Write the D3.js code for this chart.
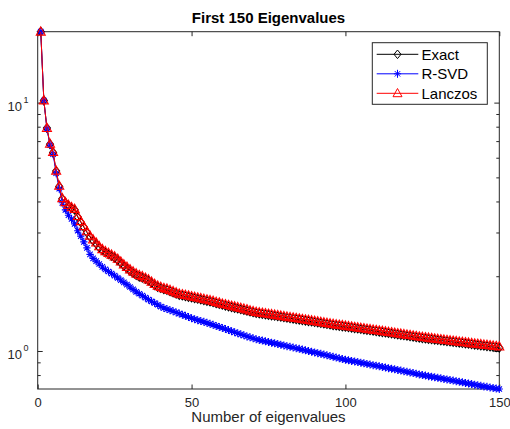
<!DOCTYPE html>
<html><head><meta charset="utf-8">
<script src="https://cdn.jsdelivr.net/npm/d3@7"></script>
<style>body{margin:0;background:#fff}svg{display:block}text{font-family:"Liberation Sans",Arial,Helvetica,sans-serif}</style>
</head><body>
<script>
const title = "First 150 Eigenvalues";
const xLabel = "Number of eigenvalues";
const seriesNames = ["Exact", "R-SVD", "Lanczos"];
const xTicks = [0, 50, 100, 150];
const yMajorTicks = [1, 10];
const yMajorExp = ["0", "1"];
const yMinorTicks = [0.8, 0.9, 2, 3, 4, 5, 6, 7, 8, 9];

const exact = [
19.3, 10.2, 7.9, 6.8, 6.3, 5.3, 4.6, 4.1, 3.95, 3.85,
3.76, 3.7, 3.46, 3.3, 3.15, 3.0, 2.88, 2.78, 2.7, 2.61,
2.54, 2.49, 2.45, 2.41, 2.37, 2.32, 2.26, 2.2, 2.15, 2.1,
2.06, 2.02, 1.99, 1.97, 1.95, 1.92, 1.88, 1.84, 1.81, 1.79,
1.77, 1.76, 1.74, 1.72, 1.7, 1.68, 1.67, 1.66, 1.65, 1.64,
1.63, 1.62, 1.61, 1.6, 1.59, 1.58, 1.57, 1.556, 1.545, 1.535,
1.52, 1.51, 1.5, 1.49, 1.48, 1.47, 1.46, 1.45, 1.44, 1.43,
1.42, 1.414, 1.408, 1.402, 1.396, 1.39, 1.384, 1.378, 1.372, 1.366,
1.36, 1.354, 1.348, 1.342, 1.336, 1.33, 1.324, 1.318, 1.312, 1.306,
1.3, 1.294, 1.288, 1.282, 1.276, 1.27, 1.265, 1.26, 1.255, 1.25,
1.245, 1.24, 1.235, 1.23, 1.225, 1.22, 1.215, 1.21, 1.205, 1.2,
1.195, 1.19, 1.185, 1.18, 1.175, 1.17, 1.165, 1.16, 1.155, 1.15,
1.145, 1.14, 1.135, 1.13, 1.125, 1.121, 1.117, 1.113, 1.11, 1.106,
1.102, 1.098, 1.094, 1.09, 1.087, 1.083, 1.079, 1.075, 1.071, 1.068,
1.064, 1.06, 1.056, 1.052, 1.049, 1.045, 1.041, 1.037, 1.034, 1.03
];
const rsvd = [
19.3, 10.2, 7.85, 6.75, 6.2, 5.2, 4.5, 3.95, 3.7, 3.52,
3.4, 3.25, 3.05, 2.9, 2.75, 2.6, 2.45, 2.36, 2.3, 2.24,
2.18, 2.13, 2.09, 2.05, 2.01, 1.97, 1.93, 1.89, 1.85, 1.81,
1.77, 1.73, 1.7, 1.67, 1.64, 1.61, 1.585, 1.56, 1.535, 1.51,
1.49, 1.475, 1.46, 1.445, 1.43, 1.415, 1.4, 1.385, 1.37, 1.355,
1.343, 1.331, 1.32, 1.31, 1.298, 1.286, 1.274, 1.262, 1.25, 1.238,
1.226, 1.214, 1.202, 1.19, 1.178, 1.167, 1.156, 1.145, 1.135, 1.125,
1.115, 1.108, 1.101, 1.094, 1.087, 1.08, 1.074, 1.067, 1.06, 1.053,
1.046, 1.04, 1.033, 1.026, 1.02, 1.013, 1.006, 1.0, 0.993, 0.987,
0.98, 0.974, 0.967, 0.961, 0.954, 0.948, 0.941, 0.935, 0.928, 0.922,
0.917, 0.912, 0.907, 0.902, 0.897, 0.892, 0.887, 0.882, 0.877, 0.873,
0.868, 0.863, 0.858, 0.853, 0.848, 0.844, 0.839, 0.834, 0.829, 0.824,
0.82, 0.815, 0.81, 0.805, 0.8, 0.796, 0.792, 0.788, 0.784, 0.78,
0.776, 0.772, 0.768, 0.764, 0.76, 0.756, 0.752, 0.748, 0.744, 0.74,
0.736, 0.732, 0.728, 0.724, 0.72, 0.717, 0.713, 0.71, 0.706, 0.703
];
const lanczos = [
19.3, 10.2, 7.9, 6.82, 6.32, 5.32, 4.62, 4.12, 3.97, 3.87,
3.79, 3.73, 3.49, 3.33, 3.18, 3.03, 2.91, 2.81, 2.73, 2.64,
2.57, 2.52, 2.48, 2.44, 2.4, 2.35, 2.29, 2.23, 2.18, 2.13,
2.09, 2.05, 2.02, 2.0, 1.97, 1.94, 1.9, 1.86, 1.83, 1.81,
1.79, 1.78, 1.76, 1.74, 1.72, 1.7, 1.69, 1.68, 1.67, 1.66,
1.65, 1.64, 1.63, 1.62, 1.61, 1.6, 1.59, 1.575, 1.565, 1.55,
1.54, 1.53, 1.52, 1.51, 1.5, 1.49, 1.48, 1.47, 1.455, 1.445,
1.435, 1.429, 1.423, 1.417, 1.411, 1.405, 1.399, 1.393, 1.386, 1.38,
1.374, 1.368, 1.362, 1.356, 1.35, 1.344, 1.338, 1.332, 1.326, 1.32,
1.314, 1.308, 1.302, 1.296, 1.29, 1.284, 1.279, 1.274, 1.269, 1.264,
1.258, 1.253, 1.248, 1.243, 1.238, 1.233, 1.228, 1.223, 1.218, 1.213,
1.208, 1.203, 1.198, 1.193, 1.188, 1.183, 1.178, 1.173, 1.168, 1.163,
1.158, 1.153, 1.148, 1.143, 1.138, 1.134, 1.13, 1.126, 1.122, 1.118,
1.114, 1.11, 1.106, 1.102, 1.098, 1.094, 1.09, 1.087, 1.083, 1.079,
1.075, 1.071, 1.068, 1.064, 1.06, 1.057, 1.053, 1.05, 1.046, 1.042
];

const W = 510, H = 429;
const L = 37.7, R = 499.3, T = 31.7, B = 389;
const axisColor = "#262626";

const svg = d3.select("body").append("svg").attr("width", W).attr("height", H);

const x = d3.scaleLinear().domain([0, 150]).range([L, R]);
const y = d3.scaleLog().domain(d3.extent(exact.concat(rsvd, lanczos))).range([B, T]);

svg.append("rect").attr("x", L).attr("y", T).attr("width", R - L).attr("height", B - T)
  .attr("fill", "#fff").attr("stroke", axisColor).attr("stroke-width", 1);

const xb = svg.append("g").attr("transform", `translate(0,${B})`)
  .call(d3.axisBottom(x).tickValues(xTicks).tickSize(-4.5).tickSizeOuter(0).tickPadding(8.5).tickFormat(d3.format("d")));
const xt = svg.append("g").attr("transform", `translate(0,${T})`)
  .call(d3.axisTop(x).tickValues(xTicks).tickSize(-4.5).tickSizeOuter(0).tickFormat(""));
[xb, xt].forEach(g => {
  g.select(".domain").remove();
  g.selectAll("line").attr("stroke", axisColor);
});
xb.selectAll("text").attr("fill", axisColor).style("font-size", "13px")
  .style("font-family", '"Liberation Sans",Arial,Helvetica,sans-serif');

function yAxisG(side, vals, size) {
  const ax = side === "left" ? d3.axisLeft(y) : d3.axisRight(y);
  const g = svg.append("g").attr("transform", `translate(${side === "left" ? L : R},0)`)
    .call(ax.tickValues(vals).tickSize(-size).tickSizeOuter(0).tickFormat(""));
  g.select(".domain").remove();
  g.selectAll("line").attr("stroke", axisColor);
  return g;
}
yAxisG("left", yMajorTicks, 5);
yAxisG("right", yMajorTicks, 5);
yAxisG("left", yMinorTicks, 3);
yAxisG("right", yMinorTicks, 3);

const yl = svg.append("g");
yMajorTicks.forEach((v, i) => {
  yl.append("text").attr("x", 22).attr("y", y(v) + 8).attr("text-anchor", "end")
    .attr("fill", axisColor).style("font-size", "13px").text("10");
  yl.append("text").attr("x", 23.5).attr("y", y(v) + 0.5).attr("text-anchor", "start")
    .attr("fill", axisColor).style("font-size", "9px").text(yMajorExp[i]);
});

svg.append("text").attr("x", (L + R) / 2).attr("y", 23.3).attr("text-anchor", "middle")
  .style("font-size", "15px").style("font-weight", "bold").attr("fill", "#000").text(title);
svg.append("text").attr("x", (L + R) / 2).attr("y", 422).attr("text-anchor", "middle")
  .style("font-size", "15px").attr("fill", axisColor).text(xLabel);

const diamond = "M0,-4.3L3.5,0L0,4.3L-3.5,0Z";
const star = "M0,-4V4M-3.6,0H3.6M-2.7,-2.7L2.7,2.7M-2.7,2.7L2.7,-2.7";
const tri = "M0,-4.8L4.5,3.4L-4.5,3.4Z";

const series = [
  {name: seriesNames[0], data: exact, color: "#000000", marker: diamond},
  {name: seriesNames[1], data: rsvd, color: "#0000ff", marker: star},
  {name: seriesNames[2], data: lanczos, color: "#ff0000", marker: tri}
];

const line = d3.line().x((d, i) => x(i + 1)).y(d => y(d));
const plot = svg.append("g");
series.forEach(s => {
  plot.append("path").attr("d", line(s.data)).attr("fill", "none")
    .attr("stroke", s.color).attr("stroke-width", 1);
  plot.append("g").selectAll("path").data(s.data).join("path")
    .attr("transform", (d, i) => `translate(${x(i + 1)},${y(d)})`)
    .attr("d", s.marker).attr("fill", "none").attr("stroke", s.color).attr("stroke-width", 1.1);
});

const lg = svg.append("g");
lg.append("rect").attr("x", 372.3).attr("y", 42.7).attr("width", 115).attr("height", 61.6)
  .attr("fill", "#fff").attr("stroke", axisColor).attr("stroke-width", 1);
series.forEach((s, i) => {
  const yy = 54.3 + i * 19.5;
  lg.append("line").attr("x1", 376.7).attr("x2", 418.3).attr("y1", yy).attr("y2", yy)
    .attr("stroke", s.color).attr("stroke-width", 1);
  lg.append("path").attr("transform", `translate(397.5,${yy})`).attr("d", s.marker)
    .attr("fill", "none").attr("stroke", s.color).attr("stroke-width", 1);
  lg.append("text").attr("x", 421.5).attr("y", yy).attr("dy", "0.36em")
    .style("font-size", "15px").attr("fill", "#000").text(s.name);
});
</script>
</body></html>
